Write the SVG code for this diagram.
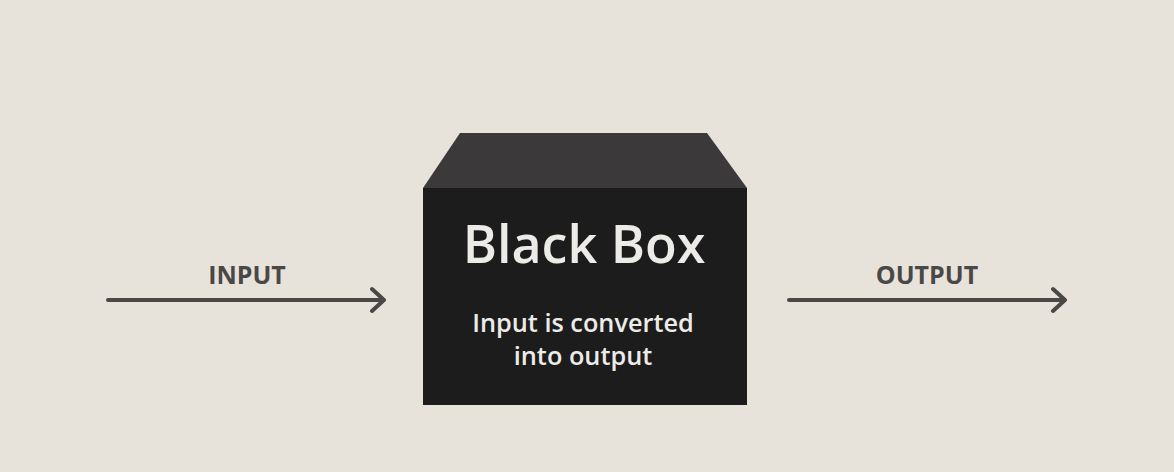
<svg xmlns="http://www.w3.org/2000/svg" width="1174" height="472" viewBox="0 0 1174 472">
<style>
.lbl{font-family:"Open Sans","Noto Sans",sans-serif;font-weight:700;font-size:25px;fill:#4a4846;text-anchor:middle}
.title{font-family:"Open Sans","Noto Sans",sans-serif;font-weight:600;font-size:52px;fill:#ecebe8;text-anchor:middle}
.sub{font-family:"Open Sans","Noto Sans",sans-serif;font-weight:600;font-size:25.3px;fill:#ecebe8;text-anchor:middle}
.conn{stroke:#4a4846;stroke-width:4;fill:none;stroke-linecap:round;stroke-linejoin:round}
</style>
<rect width="1174" height="472" fill="#e7e3db"/>
<g id="connectors">
<path class="conn" d="M108 300H383M372 289L384 300L372 311"/>
<path class="conn" d="M789 300H1064M1053 289L1065 300L1053 311"/>
</g>
<g id="input">
<text class="lbl" x="247" y="284">INPUT</text>
</g>
<g id="output">
<text class="lbl" x="927" y="284">OUTPUT</text>
</g>
<g id="blackbox">
<polygon points="460,133 707,133 747,188 423,188" fill="#3b3939"/>
<rect x="423" y="188" width="324" height="217" fill="#1d1c1c"/>
<text class="title" x="584" y="263">Black Box</text>
<text class="sub" x="583" y="332">Input is converted</text>
<text class="sub" x="583" y="365">into output</text>
</g>
</svg>
